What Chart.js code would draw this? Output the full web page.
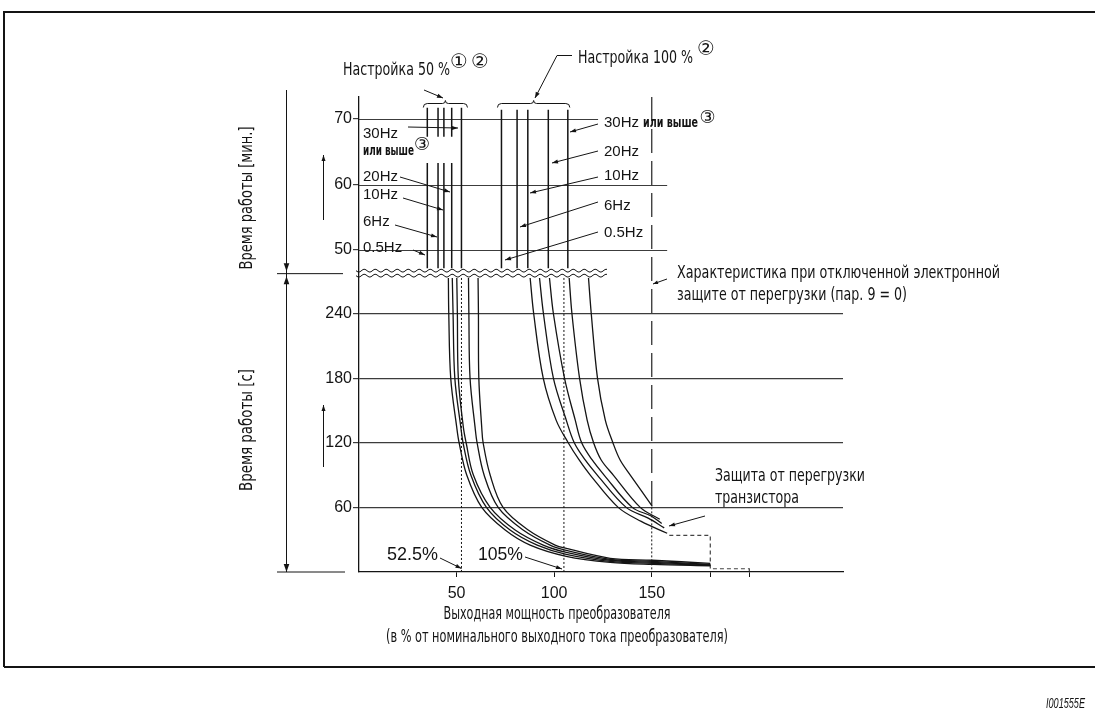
<!DOCTYPE html>
<html lang="ru">
<head>
<meta charset="utf-8">
<title>Характеристика электронной защиты от перегрузки</title>
<script src="https://cdn.jsdelivr.net/npm/chart.js@4.4.1/dist/chart.umd.min.js"></script>
<style>
  html, body { margin: 0; padding: 0; background: #fff; }
  #wrap { width: 1095px; height: 727px; }
</style>
</head>
<body>
<div id="wrap"><canvas id="chart" width="1095" height="727"></canvas></div>
<script>
// --- axes ---
const xTicks = [50, 100, 150, 180, 200];
const xTickLabels = ['50', '100', '150', '', ''];
const secTicks = [60, 120, 180, 240];
const minTicks = [50, 60, 70];
const freqLabels = ['0.5Hz', '6Hz', '10Hz', '20Hz', '30Hz'];

// --- upper part (minutes): vertical lines, % of rated current ---
const vert50 = [35, 40.5, 43.5, 47.5, 52.5];
const vert100 = [73, 81, 86.5, 97, 107];

// --- lower part (seconds): [%, s] ---
const c50_05 = [[45.8, 273], [46.0, 240], [47.0, 180], [50.1, 134], [51.3, 120], [55.2, 90], [62.9, 60], [74.9, 39], [87.7, 25], [106.2, 14.6], [128.7, 9.0], [150.3, 7.1], [180, 5.8]];
const c50_6 = [[47.8, 273], [48.2, 240], [49.1, 180], [52.2, 134], [53.3, 120], [57.3, 90], [65.3, 60], [77.4, 39], [91.3, 25], [106.2, 16.4], [128.7, 9.9], [150.3, 8.1], [180, 6.2]];
const c50_10 = [[50.1, 273], [50.4, 240], [50.9, 180], [53.5, 134], [54.9, 120], [58.6, 90], [67.2, 60], [80.0, 39], [94.4, 25], [106.2, 18.3], [128.7, 10.9], [150.3, 9.0], [180, 6.7]];
const c50_20 = [[56.1, 273], [56.3, 240], [56.9, 180], [59.5, 134], [60.5, 120], [64.1, 90], [71.3, 60], [84.1, 39], [97.9, 25], [106.2, 20.1], [128.7, 11.8], [150.3, 9.9], [180, 7.1]];
const c50_30 = [[61.0, 273], [61.2, 240], [61.4, 180], [62.9, 134], [63.6, 120], [67.2, 90], [73.8, 60], [86.7, 39], [100.5, 25], [106.2, 21.9], [128.7, 12.7], [150.3, 10.9], [180, 8.1]];

const c100_05 = [[87.7, 273], [89.5, 240], [94.4, 180], [101.0, 141], [107.2, 120], [112.8, 104], [118.5, 90], [132.8, 60], [144.6, 47], [157.9, 36]];
const c100_6 = [[92.5, 273], [94.5, 240], [99.6, 180], [106.2, 141], [110.3, 120], [115.9, 104], [122.1, 90], [136.9, 60], [148.2, 50], [156.4, 41]];
const c100_10 = [[97.6, 273], [99.6, 240], [105.3, 180], [110.8, 141], [114.1, 120], [119.5, 104], [125.6, 90], [140.0, 60], [149.7, 52], [155.1, 45]];
const c100_20 = [[107.7, 273], [109.1, 240], [113.0, 180], [116.9, 141], [120.2, 120], [124.1, 104], [130.3, 90], [144.1, 60], [154.1, 49]];
const c100_30 = [[117.6, 273], [119.0, 240], [122.2, 180], [126.2, 141], [130.1, 120], [133.8, 104], [139.0, 90], [150.3, 61]];

const trProt = [[159, 34], [180, 34], [180, 3], [200, 3], [200, 0]];
const markPct = [52.5, 105];
const noProtPct = 150;

const minTop50 = 71.7, minTop100 = 71.4, minGapFrom = 67.3, minGapTo = 63.3, minBreak = 47.2;
const secBreak = 273;

// both y axes share the same plot height
const SEC_MAX = 441, MIN_MIN = 0.84, MIN_MAX = 73.36;
const minToSec = m => (m - MIN_MIN) / (MIN_MAX - MIN_MIN) * SEC_MAX;

const ink = '#141414';
const gridInk = '#3c3c3c';
const NARROW = '"Liberation Sans Narrow", "DejaVu Sans Condensed", "Arial Narrow", sans-serif';
const ARIAL = '"Liberation Sans", Arial, sans-serif';
const CIRC = '"DejaVu Sans", "Noto Sans CJK JP", sans-serif';

const datasets = [];
function addLine(points, axis, style) {
  datasets.push(Object.assign({
    data: points.map(([x, y]) => ({ x, y })),
    yAxisID: axis,
    showLine: true,
    borderColor: ink,
    borderWidth: 1.3,
    pointRadius: 0,
    tension: 0,
    fill: false
  }, style));
}

[c50_05, c50_6, c50_10, c50_20, c50_30, c100_05, c100_6, c100_10, c100_20, c100_30]
  .forEach(c => addLine(c, 'ys', { tension: 0.35 }));

vert50.forEach((x, i) => {
  if (i < vert50.length - 1) {
    addLine([[x, minTop50], [x, minGapFrom]], 'ym', { borderWidth: 1.5 });
    addLine([[x, minGapTo], [x, minBreak]], 'ym', { borderWidth: 1.5 });
  } else {
    addLine([[x, minTop50], [x, minBreak]], 'ym', { borderWidth: 1.5 });
  }
});
vert100.forEach(x => addLine([[x, minTop100], [x, minBreak]], 'ym', { borderWidth: 1.5 }));

markPct.forEach(x => addLine([[x, secBreak], [x, 0]], 'ys', { borderWidth: 1, borderDash: [2, 2] }));
addLine([[noProtPct, SEC_MAX], [noProtPct, 60]], 'ys', { borderWidth: 1.3, borderDash: [24, 8], borderColor: '#333' });
addLine([[noProtPct, 60], [noProtPct, 0]], 'ys', { borderWidth: 1, borderDash: [2, 2] });
addLine(trProt, 'ys', { borderWidth: 1.2, borderDash: [4, 3], borderColor: '#444' });

// y ticks: seconds below the break, minutes above it (same axis, different labels)
const yTickList = secTicks.map(v => ({ value: v, label: String(v), grid: true }))
  .concat(minTicks.map(m => ({ value: minToSec(m), label: String(m), grid: false })));

// --- drawing helpers ---
function txt(ctx, s, x, y, font, o = {}) {
  ctx.save();
  ctx.font = font;
  ctx.fillStyle = o.color || ink;
  ctx.textBaseline = o.base || 'alphabetic';
  ctx.textAlign = 'left';
  const m = ctx.measureText(s).width;
  const w = o.w || m;
  ctx.translate(x, y);
  if (o.rot) ctx.rotate(o.rot);
  ctx.translate(o.align === 'center' ? -w / 2 : o.align === 'right' ? -w : 0, 0);
  ctx.scale(w / m, 1);
  ctx.fillText(s, 0, 0);
  ctx.restore();
}

function seg(ctx, x1, y1, x2, y2) {
  ctx.beginPath(); ctx.moveTo(x1, y1); ctx.lineTo(x2, y2); ctx.stroke();
}

function head(ctx, x1, y1, x2, y2, len = 6, half = 2.2) {
  const a = Math.atan2(y2 - y1, x2 - x1);
  const bx = x2 - len * Math.cos(a), by = y2 - len * Math.sin(a);
  ctx.beginPath();
  ctx.moveTo(x2, y2);
  ctx.lineTo(bx + half * Math.sin(a), by - half * Math.cos(a));
  ctx.lineTo(bx - half * Math.sin(a), by + half * Math.cos(a));
  ctx.closePath();
  ctx.fill();
}

function arrow(ctx, x1, y1, x2, y2, len, half) {
  seg(ctx, x1, y1, x2, y2);
  head(ctx, x1, y1, x2, y2, len, half);
}

function brace(ctx, xa, xb, y) {
  const xm = (xa + xb) / 2;
  ctx.beginPath();
  ctx.moveTo(xa, y + 4);
  ctx.quadraticCurveTo(xa, y, xa + 4, y);
  ctx.lineTo(xm - 3, y);
  ctx.quadraticCurveTo(xm, y, xm, y - 3);
  ctx.quadraticCurveTo(xm, y, xm + 3, y);
  ctx.lineTo(xb - 4, y);
  ctx.quadraticCurveTo(xb, y, xb, y + 4);
  ctx.stroke();
}

function wave(ctx, x0, x1, y) {
  ctx.beginPath();
  for (let x = x0; x <= x1; x++) {
    const yy = y + 1.4 * Math.sin((x - x0) / 11 * 2 * Math.PI);
    if (x === x0) ctx.moveTo(x, yy); else ctx.lineTo(x, yy);
  }
  ctx.stroke();
}

const decor = {
  id: 'decor',
  beforeDatasetsDraw(chart) {
    const { ctx, chartArea } = chart;
    const xs = chart.scales.x, ym = chart.scales.ym;
    // partial grid lines of the minutes part
    ctx.save();
    ctx.strokeStyle = gridInk;
    ctx.lineWidth = 1.2;
    const ends = { 50: 157.9, 60: 157.9, 70: 122.5 };
    minTicks.forEach(v => {
      const y = Math.round(ym.getPixelForValue(v)) + 0.5;
      seg(ctx, chartArea.left, y, xs.getPixelForValue(ends[v]), y);
    });
    ctx.restore();
  },
  afterDraw(chart) {
    const { ctx } = chart;
    const xs = chart.scales.x, ym = chart.scales.ym, ys = chart.scales.ys;
    ctx.save();
    ctx.strokeStyle = ink;
    ctx.fillStyle = ink;

    // frame
    ctx.lineWidth = 2;
    ctx.beginPath();
    ctx.moveTo(4, 667); ctx.lineTo(4, 12); ctx.lineTo(1095, 12);
    ctx.moveTo(4, 667); ctx.lineTo(1095, 667);
    ctx.stroke();
    ctx.lineWidth = 1;

    // axis break
    const yBreak = (ym.getPixelForValue(minBreak) + ys.getPixelForValue(secBreak)) / 2;
    wave(ctx, 356, 607, yBreak - 2.5);
    wave(ctx, 356, 607, yBreak + 2.5);

    // dimension lines on the left
    const yBot = ys.getPixelForValue(0);
    seg(ctx, 286.5, 90, 286.5, yBot);
    head(ctx, 286.5, 250, 286.5, yBreak - 2, 8, 2.8);
    head(ctx, 286.5, 300, 286.5, yBreak + 3, 8, 2.8);
    head(ctx, 286.5, 540, 286.5, yBot, 8, 2.8);
    seg(ctx, 277, yBreak + 0.5, 343, yBreak + 0.5);
    seg(ctx, 277, yBot, 345, yBot);
    arrow(ctx, 323.5, 220, 323.5, 155, 6, 2);
    arrow(ctx, 323.5, 467, 323.5, 405, 6, 2);

    // axis titles
    txt(ctx, 'Время работы [мин.]', 247, 198, '18px ' + NARROW, { rot: -Math.PI / 2, align: 'center', base: 'middle', w: 143 });
    txt(ctx, 'Время работы [c]', 247, 430, '18px ' + NARROW, { rot: -Math.PI / 2, align: 'center', base: 'middle', w: 122 });
    txt(ctx, 'Выходная мощность преобразователя', 557, 619, '18px ' + NARROW, { align: 'center', w: 227 });
    txt(ctx, '(в % от номинального выходного тока преобразователя)', 557, 642, '18px ' + NARROW, { align: 'center', w: 342 });

    // setting groups
    const b50a = xs.getPixelForValue(vert50[0]) - 4, b50b = xs.getPixelForValue(vert50[4]) + 6;
    const b100a = xs.getPixelForValue(vert100[0]) - 4, b100b = xs.getPixelForValue(vert100[4]) + 2;
    brace(ctx, b50a, b50b, 103.5);
    brace(ctx, b100a, b100b, 103.5);
    txt(ctx, 'Настройка 50 %', 343, 75, '18px ' + NARROW, { w: 107 });
    txt(ctx, '①', 459, 63, '20px ' + CIRC, { align: 'center', base: 'middle' });
    txt(ctx, '②', 480, 63, '20px ' + CIRC, { align: 'center', base: 'middle' });
    arrow(ctx, 424, 90, 443, 98, 6, 2.2);
    txt(ctx, 'Настройка 100 %', 578, 63, '18px ' + NARROW, { w: 115 });
    txt(ctx, '②', 706, 50, '20px ' + CIRC, { align: 'center', base: 'middle' });
    seg(ctx, 572, 55.5, 557, 55.5);
    arrow(ctx, 557, 55.5, 535, 98, 6, 2.2);

    // frequency labels, 50 % group
    const f15 = '15px ' + ARIAL;
    const leftBase = [252, 226, 199, 181, 138];
    const leftArrows = [[413, 250, 425, 255], [395, 225, 437, 237], [403, 198, 443, 210], [400, 177, 450, 192], [408, 127, 458, 128]];
    freqLabels.forEach((f, i) => {
      txt(ctx, f, 363, leftBase[i], f15);
      const a = leftArrows[i];
      arrow(ctx, a[0], a[1], a[2], a[3], 6, 2);
    });
    txt(ctx, 'или выше', 363, 155, 'bold 14px ' + NARROW, { w: 51 });
    txt(ctx, '③', 422, 145, '18px ' + CIRC, { align: 'center', base: 'middle' });

    // frequency labels, 100 % group
    const rightBase = [237, 210, 180, 156, 127];
    const rightArrows = [[598, 232, 505, 260], [598, 202, 520, 227], [598, 177, 530, 193], [598, 151, 552, 163], [598, 124, 570, 132]];
    freqLabels.forEach((f, i) => {
      txt(ctx, f, 604, rightBase[i], f15);
      const a = rightArrows[i];
      arrow(ctx, a[0], a[1], a[2], a[3], 6, 2);
    });
    txt(ctx, 'или выше', 643, 127, 'bold 14px ' + NARROW, { w: 55 });
    txt(ctx, '③', 707.5, 118, '18px ' + CIRC, { align: 'center', base: 'middle' });

    // percent markers
    txt(ctx, '52.5%', 387, 560, '17.5px ' + ARIAL, { w: 51 });
    arrow(ctx, 440, 558, 461.5, 568.5, 6, 2);
    txt(ctx, '105%', 478, 560, '17.5px ' + ARIAL, { w: 45 });
    arrow(ctx, 525, 557, 562, 569, 6, 2);

    // right-side notes
    txt(ctx, 'Характеристика при отключенной электронной', 677, 278, '18px ' + NARROW, { w: 323 });
    txt(ctx, 'защите от перегрузки (пар. 9 = 0)', 677, 300, '18px ' + NARROW, { w: 230 });
    arrow(ctx, 667, 279, 653, 284, 5, 1.8);
    txt(ctx, 'Защита от перегрузки', 715, 481, '18px ' + NARROW, { w: 150 });
    txt(ctx, 'транзистора', 715, 503, '18px ' + NARROW, { w: 84 });
    arrow(ctx, 705, 516, 669, 526, 6, 2);

    txt(ctx, 'I001555E', 1085, 708, 'italic 14px ' + ARIAL, { align: 'right', w: 39 });
    ctx.restore();
  }
};

const tickFont = { family: ARIAL, size: 16 };

new Chart(document.getElementById('chart'), {
  type: 'scatter',
  data: { datasets },
  options: {
    responsive: false,
    animation: false,
    devicePixelRatio: 1,
    layout: { padding: { left: 319, right: 252, top: 97, bottom: 0 } },
    plugins: { legend: { display: false }, tooltip: { enabled: false } },
    scales: {
      x: {
        type: 'linear', position: 'bottom', min: 0, max: 248,
        afterBuildTicks: s => { s.ticks = xTicks.map(v => ({ value: v })); },
        afterFit: s => { s.height = 155; },
        ticks: {
          autoSkip: false, maxRotation: 0, padding: 7, color: ink, font: tickFont,
          callback: v => xTickLabels[xTicks.indexOf(v)]
        },
        grid: { drawOnChartArea: false, tickLength: 5, color: ink, lineWidth: 1 },
        border: { color: ink, width: 1.3 }
      },
      ys: {
        type: 'linear', position: 'left', min: 0, max: SEC_MAX,
        afterBuildTicks: s => { s.ticks = yTickList.map(t => ({ value: t.value })); },
        afterFit: s => { s.width = 40; },
        ticks: {
          autoSkip: false, padding: 1, color: ink, font: tickFont,
          callback: (v, i) => yTickList[i].label
        },
        grid: {
          color: c => (c.tick && yTickList[c.index] && !yTickList[c.index].grid) ? 'rgba(0,0,0,0)' : gridInk,
          tickColor: gridInk, lineWidth: 1.2, tickLength: 6
        },
        border: { color: ink, width: 1.3 }
      },
      ym: {
        type: 'linear', position: 'left', min: MIN_MIN, max: MIN_MAX,
        display: false
      }
    }
  },
  plugins: [decor]
});
</script>
</body>
</html>
